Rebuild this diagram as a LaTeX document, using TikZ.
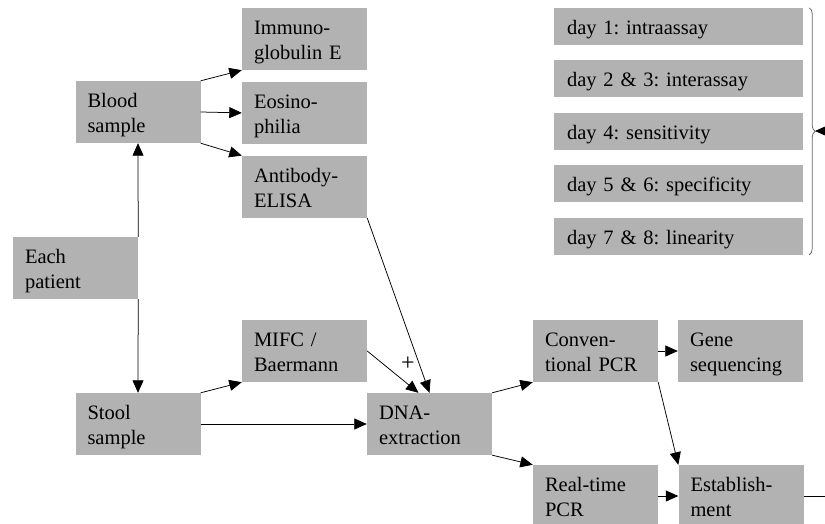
\documentclass[tikz,border=0pt]{standalone}
\usepackage{fontspec}
\setmainfont{Liberation Serif}
\usetikzlibrary{arrows.meta, positioning, decorations.pathreplacing}
\usepackage{xcolor}
\definecolor{boxgray}{RGB}{178,178,178}
\frenchspacing
\tikzset{
  block/.style = {rectangle, fill=boxgray, minimum height=62pt, text width=101pt, inner xsep=12pt, align=left, text height=21pt, text depth=30pt, font=\fontsize{20.5}{25}\selectfont},
  daybox/.style = {block, minimum height=37pt, text width=223pt, inner xsep=13pt, text depth=5pt},
  arrow/.style = {-{Triangle[length=12.5pt,width=11pt]}, line width=0.75pt},
  plain/.style = {line width=0.75pt},
  bracket/.style = {decorate, decoration={brace, amplitude=6pt}, draw=black!60, line width=0.75pt}
}

\begin{document}
\begin{tikzpicture}[x=1pt, y=-1pt, node distance=11.5pt]
\useasboundingbox (0,0) rectangle (825,524);

\node[block] (patient) at (75.5,268) {Each\\patient};
\node[block] (blood) at (138,112) {Blood\\sample};
\node[block] (stool) at (138,424) {Stool\\sample};

\node[block] (immuno) at (304.5,39) {Immuno-\\globulin E};
\node[block, below=of immuno] (eosino) {Eosino-\\philia};
\node[block, below=of eosino] (elisa) {Antibody-\\ELISA};
\node[block] (mifc) at (304.5,351) {MIFC /\\Baermann};

\node[block] (dna) at (429.5,424) {DNA-\\extraction};
\node[block] (conv) at (595.5,351) {Conven-\\tional PCR};
\node[block] (realtime) at (595.5,496) {Real-time\\PCR};
\node[block] (gene) at (740.5,351) {Gene\\sequencing};
\node[block] (establish) at (741,496) {Establish-\\ment};

\node[daybox] (day1) at (678.5,26.5) {day 1: intraassay};
\node[daybox, below=15pt of day1] (day2) {day 2 \& 3: interassay};
\node[daybox, below=15pt of day2] (day4) {day 4: sensitivity};
\node[daybox, below=15pt of day4] (day5) {day 5 \& 6: specificity};
\node[daybox, below=15pt of day5] (day7) {day 7 \& 8: linearity};

\node[font=\fontsize{24}{26}\selectfont, inner sep=0pt] (plus) at (408,364) {+};

\coordinate (bracetop) at ([xshift=6pt]day1.north east);
\coordinate (bracebot) at ([xshift=6pt]day7.south east);
\coordinate (bracetip) at (815,131);
\coordinate (feedin) at (845,131);
\coordinate (estout) at (845,496);

\draw[arrow] (patient.north east) -- (blood.south);
\draw[arrow] (patient.south east) -- (stool.north);
\draw[arrow] (blood.north east) -- (immuno.south west);
\draw[arrow] (blood.east) -- (eosino.west);
\draw[arrow] (blood.south east) -- (elisa.north west);
\draw[arrow] (stool.north east) -- (mifc.south west);
\draw[arrow] (stool.east) -- (dna.west);
\draw[arrow] (mifc.east) -- ([xshift=-11pt]dna.north);
\draw[arrow] (elisa.south east) -- (dna.north);
\draw[arrow] (dna.north east) -- (conv.south west);
\draw[arrow] (dna.south east) -- (realtime.north west);
\draw[arrow] (conv.east) -- (gene.west);
\draw[arrow] (conv.south east) -- (establish.north west);
\draw[arrow] (realtime.east) -- (establish.west);
\draw[plain] (establish.east) -- (estout);

\draw[bracket] (bracetop) -- (bracebot);
\draw[arrow] (feedin) -- (bracetip);

\end{tikzpicture}
\end{document}
